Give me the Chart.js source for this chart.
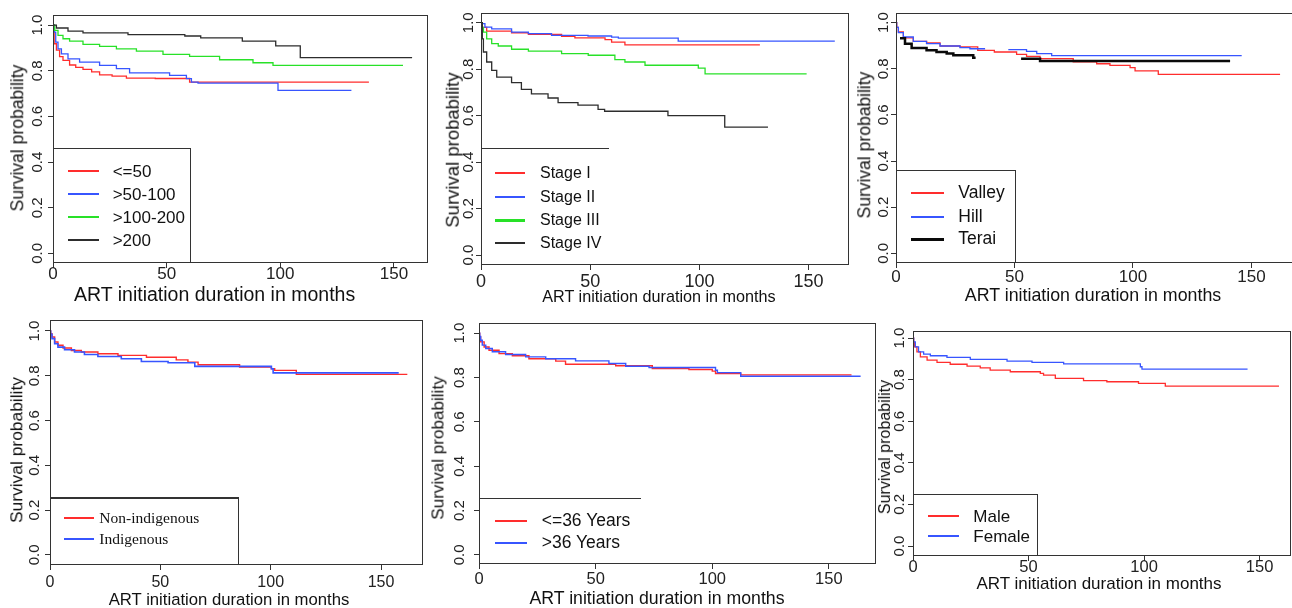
<!DOCTYPE html>
<html>
<head>
<meta charset="utf-8">
<script src="https://cdn.jsdelivr.net/npm/chart.js@4.4.1/dist/chart.umd.min.js"></script>
<style>
  html, body { margin: 0; padding: 0; background: #fff; overflow: hidden; width: 1292px; height: 608px; }
  .panel { position: absolute; }
  .txt { position: absolute; white-space: nowrap; line-height: 1; color: #111; font-family: 'Liberation Sans', Arial, sans-serif; }
  .serif { font-family: 'Liberation Serif', 'Times New Roman', serif; }
  .lgbox { position: absolute; box-sizing: border-box; border: 0 solid #333; }
  .lgline { position: absolute; }
</style>
</head>
<body>
<script>
// Ticks
const xTicks = [0, 50, 100, 150];
const yTicks = [0, 0.2, 0.4, 0.6, 0.8, 1.0];
const xTitleText = 'ART initiation duration in months';
const yTitleText = 'Survival probability';

// Panel 1 : CD4 count
const cd4Names = ['<=50', '>50-100', '>100-200', '>200'];
const cd4aT = [0, 0.5, 1.5, 2.9, 4.4, 7.3, 10, 13.2, 17, 20.5, 26, 32.3, 45, 60.1, 139];
const cd4aS = [1, 0.918, 0.89, 0.862, 0.845, 0.825, 0.815, 0.806, 0.795, 0.782, 0.776, 0.768, 0.766, 0.75, 0.75];
const cd4bT = [0, 0.6, 1.2, 2.2, 3.7, 6.6, 11.7, 20.5, 27.9, 33.7, 51.3, 58.7, 60.9, 63.8, 99, 131.3];
const cd4bS = [1, 0.969, 0.925, 0.896, 0.874, 0.852, 0.838, 0.823, 0.809, 0.791, 0.78, 0.765, 0.75, 0.746, 0.714, 0.714];
const cd4cT = [0, 0.75, 2.2, 4.4, 7.3, 13.2, 20.5, 27.9, 36.7, 48.4, 60.1, 73.3, 88, 96.8, 154];
const cd4cS = [1, 0.977, 0.955, 0.94, 0.93, 0.915, 0.907, 0.896, 0.886, 0.872, 0.863, 0.848, 0.835, 0.823, 0.823];
const cd4dT = [0, 1.5, 6.6, 13.2, 33, 58, 65, 83.3, 98, 108.8, 158];
const cd4dS = [1, 0.987, 0.973, 0.966, 0.958, 0.952, 0.944, 0.93, 0.909, 0.857, 0.857];

// Panel 2 : WHO stage
const stageNames = ['Stage I', 'Stage II', 'Stage III', 'Stage IV'];
const stage1T = [0, 0.5, 2.6, 14, 21.7, 36.9, 43, 56.8, 59.8, 65.9, 127.7];
const stage1S = [1, 0.98, 0.964, 0.957, 0.95, 0.941, 0.935, 0.927, 0.917, 0.905, 0.905];
const stage2T = [0, 0.3, 1.8, 4.9, 14, 21.7, 32.3, 49, 59.8, 62.9, 90.3, 162];
const stage2S = [1, 0.996, 0.981, 0.974, 0.96, 0.953, 0.946, 0.943, 0.938, 0.934, 0.921, 0.921];
const stage3T = [0, 0.5, 1.1, 2.6, 4.9, 7.9, 14, 21.7, 36.9, 49.1, 61.3, 65.9, 75.1, 99.5, 102.6, 149.1];
const stage3S = [1, 0.98, 0.96, 0.931, 0.91, 0.9, 0.886, 0.878, 0.867, 0.86, 0.841, 0.831, 0.817, 0.805, 0.78, 0.78];
const stage4T = [0, 0.6, 1.1, 2.6, 4.9, 7.2, 14, 18.5, 23.1, 30.7, 35.3, 44.4, 53.6, 56.6, 85.6, 111.6, 131.4];
const stage4S = [1, 0.931, 0.874, 0.831, 0.795, 0.766, 0.742, 0.713, 0.694, 0.676, 0.656, 0.645, 0.627, 0.619, 0.6, 0.551, 0.551];

// Panel 3 : region (null = break in the line)
const regionNames = ['Valley', 'Hill', 'Terai'];
const valleyT = [0, 0.3, 1, 3.1, 7.3, 12.9, 18.6, 27, 34.5, 41.5, 50.9, 55.1, 60.8, 74.8, 84.7, 90.3, 98.8, 100.9, 110.7, 162.1];
const valleyS = [1, 0.98, 0.96, 0.934, 0.919, 0.912, 0.899, 0.895, 0.88, 0.873, 0.863, 0.854, 0.844, 0.83, 0.822, 0.815, 0.805, 0.791, 0.776, 0.776];
const hillT = [0, 0.3, 1, 3.1, 7.3, 12.9, 18.6, 27, 31.2, 37.6, 37.7, 47.4, 55.1, 59.4, 65.7, 145.9];
const hillS = [1, 0.98, 0.957, 0.938, 0.919, 0.909, 0.899, 0.892, 0.887, 0.887, null, 0.883, 0.876, 0.866, 0.857, 0.857];
const teraiT = [1.7, 3.8, 6.6, 12.9, 17.1, 21.4, 24.2, 32.6, 33.6, 33.7, 52.8, 60.8, 141];
const teraiS = [0.932, 0.909, 0.89, 0.88, 0.873, 0.866, 0.859, 0.848, 0.848, null, 0.844, 0.834, 0.834];

// Panel 4 : ethnicity
const ethNames = ['Non-indigenous', 'Indigenous'];
const nonIndT = [0, 0.3, 0.9, 2.1, 3.6, 5.9, 9.7, 14.2, 21.7, 30.8, 43.7, 57.2, 62.5, 67.1, 85.9, 100.3, 101.8, 111.6, 161.9];
const nonIndS = [1, 0.988, 0.973, 0.951, 0.936, 0.924, 0.913, 0.906, 0.898, 0.891, 0.883, 0.871, 0.861, 0.849, 0.839, 0.831, 0.824, 0.806, 0.806];
const indT = [0, 0.3, 0.9, 2.1, 3.6, 6.6, 11.1, 15.6, 21.7, 32.3, 41.4, 53.5, 65.6, 100.3, 101.1, 158];
const indS = [1, 0.985, 0.966, 0.943, 0.928, 0.916, 0.906, 0.895, 0.886, 0.876, 0.864, 0.858, 0.842, 0.831, 0.813, 0.813];

// Panel 5 : age
const ageNames = ['<=36 Years', '>36 Years'];
const ageLoT = [0, 0.3, 0.7, 2.2, 4.3, 8.6, 14.3, 21.4, 32.9, 37.1, 58.6, 74.3, 90, 100, 101.4, 112.2, 159.7];
const ageLoS = [1, 0.983, 0.961, 0.938, 0.923, 0.908, 0.898, 0.885, 0.874, 0.86, 0.853, 0.84, 0.836, 0.829, 0.818, 0.812, 0.812];
const ageHiT = [0, 0.3, 0.7, 1.4, 2.9, 5.7, 11.4, 20, 28.6, 41.4, 55.7, 62.9, 72.9, 101.4, 102.2, 112.2, 163.6];
const ageHiS = [1, 0.985, 0.968, 0.946, 0.931, 0.916, 0.904, 0.893, 0.885, 0.875, 0.863, 0.851, 0.845, 0.833, 0.822, 0.806, 0.806];

// Panel 6 : sex
const sexNames = ['Male', 'Female'];
const maleT = [0, 0.3, 0.6, 1.7, 3.2, 6.1, 10.4, 16.1, 23.4, 29.1, 33.4, 42.1, 55.1, 56.5, 61.6, 73.8, 83.9, 97.6, 109.2, 158.4];
const maleS = [1, 0.98, 0.958, 0.934, 0.91, 0.894, 0.883, 0.874, 0.865, 0.857, 0.846, 0.838, 0.83, 0.822, 0.806, 0.795, 0.79, 0.782, 0.769, 0.769];
const femaleT = [0, 0.3, 1, 2.4, 4.6, 7.5, 14.7, 24.8, 40.7, 51.5, 65.2, 98.4, 99.1, 144.8];
const femaleS = [1, 0.982, 0.958, 0.934, 0.923, 0.915, 0.907, 0.898, 0.889, 0.883, 0.876, 0.862, 0.851, 0.851];

// Colours
const RED = 'rgb(255,45,45)';
const BLUE = 'rgb(55,85,255)';
const GREEN = 'rgb(40,225,40)';
const BLACK = 'rgb(45,45,45)';
const SANS = "'Liberation Sans', Arial, sans-serif";

// Layout of the six panels (page pixels)
const panels = [
  { box: [53, 15, 428, 263], xMax: 165, yMin: -0.042, yMax: 1.044,
    series: [[cd4aT, cd4aS], [cd4bT, cd4bS], [cd4cT, cd4cS], [cd4dT, cd4dS]],
    names: cd4Names, colors: [RED, BLUE, GREEN, BLACK], widths: [1.3, 1.3, 1.3, 1.3], lgWidths: [2, 2, 2, 2],
    xTickFont: 17, xGap: 11, yGap: 15,
    xTitle: [214.6, 295, 19.5], yTitle: [18.3, 138, 17.5],
    legend: { box: [53, 148, 191, 263], sides: 'tr', top: 1, lineX: [68, 99], textX: 112.7, rows: [171, 194, 217, 240], font: 17, serif: false } },
  { box: [481, 13, 849, 265], xMax: 168.5, yMin: -0.043, yMax: 1.042,
    series: [[stage1T, stage1S], [stage2T, stage2S], [stage3T, stage3S], [stage4T, stage4S]],
    names: stageNames, colors: [RED, BLUE, GREEN, BLACK], widths: [1.3, 1.3, 1.3, 1.3], lgWidths: [2, 2, 3, 2],
    xTickFont: 18, xGap: 16.7, yGap: 12.4,
    xTitle: [659, 296, 16.2], yTitle: [453.3, 150, 18.5],
    legend: { box: [481, 148, 609, 265], sides: 't', top: 1, lineX: [495, 525], textX: 540, rows: [173, 197, 220, 243], font: 16, serif: false } },
  { box: [896, 13, 1295, 263], xMax: 168.4, yMin: -0.042, yMax: 1.042,
    series: [[valleyT, valleyS], [hillT, hillS], [teraiT, teraiS]],
    names: regionNames, colors: [RED, BLUE, 'rgb(10,10,10)'], widths: [1.3, 1.3, 2.5], lgWidths: [2, 2, 3],
    xTickFont: 17, xGap: 14, yGap: 12.4,
    xTitle: [1093, 295.5, 17.8], yTitle: [865, 145, 17.5],
    legend: { box: [896, 170, 1016, 263], sides: 'tr', top: 1, lineX: [911, 944], textX: 958.3, rows: [193, 217, 239], font: 17.5, serif: false } },
  { box: [50, 320, 423, 565], xMax: 169, yMin: -0.045, yMax: 1.049,
    series: [[nonIndT, nonIndS], [indT, indS]],
    names: ethNames, colors: [RED, BLUE], widths: [1.4, 1.6], lgWidths: [2, 2],
    xTickFont: 16, xGap: 18, yGap: 15,
    xTitle: [229, 600, 16.7], yTitle: [16.7, 449.7, 17.4],
    legend: { box: [50, 497, 239, 565], sides: 'tr', top: 2, lineX: [64, 94], textX: 99.3, rows: [518, 539], font: 15.5, serif: true } },
  { box: [479, 323, 876, 564], xMax: 170.2, yMin: -0.041, yMax: 1.046,
    series: [[ageLoT, ageLoS], [ageHiT, ageHiS]],
    names: ageNames, colors: [RED, BLUE], widths: [1.4, 1.4], lgWidths: [2, 2],
    xTickFont: 16.5, xGap: 15.7, yGap: 19.3,
    xTitle: [657, 599, 17.7], yTitle: [438.3, 448, 17.1],
    legend: { box: [479, 498, 641, 564], sides: 't', top: 1, lineX: [495, 527], textX: 541.7, rows: [521, 543], font: 17.5, serif: false } },
  { box: [913, 331, 1291, 556], xMax: 163.6, yMin: -0.048, yMax: 1.034,
    series: [[maleT, maleS], [femaleT, femaleS]],
    names: sexNames, colors: [RED, BLUE], widths: [1.3, 1.3], lgWidths: [2, 2],
    xTickFont: 16.5, xGap: 11.5, yGap: 12.7,
    xTitle: [1099, 583, 17], yTitle: [885, 446.6, 16],
    legend: { box: [913, 494, 1038, 556], sides: 'tr', top: 1, lineX: [928, 959], textX: 973.3, rows: [516, 536], font: 17, serif: false } }
];

const PAD_L = 30, PAD_T = 10, PAD_R = 10, PAD_B = 30, TICK = 5, Y_TICK_FONT = 15;

// Box round the plot region
const boxPlugin = {
  id: 'box',
  afterDatasetsDraw(chart) {
    const { ctx, chartArea: a } = chart;
    ctx.save();
    ctx.strokeStyle = '#333';
    ctx.lineWidth = 1;
    ctx.strokeRect(a.left + 0.5, a.top + 0.5, a.right - a.left - 1, a.bottom - a.top - 1);
    ctx.restore();
  }
};

function addText(x, y, text, size, rotate, serif) {
  const d = document.createElement('div');
  d.className = 'txt' + (serif ? ' serif' : '');
  d.textContent = text;
  d.style.left = x + 'px';
  d.style.top = y + 'px';
  d.style.fontSize = size + 'px';
  d.style.transform = rotate ? 'translate(-50%,-50%) rotate(-90deg)' : 'translate(-50%,-50%)';
  document.body.appendChild(d);
  return d;
}

function addLegend(p) {
  const lg = p.legend;
  const [l, t, r, b] = lg.box;
  const box = document.createElement('div');
  box.className = 'lgbox';
  box.style.left = l + 'px';
  box.style.top = t + 'px';
  box.style.width = (r - l) + 'px';
  box.style.height = (b - t) + 'px';
  box.style.borderTopWidth = lg.top + 'px';
  if (lg.sides.includes('r')) box.style.borderRightWidth = '1px';
  document.body.appendChild(box);
  p.names.forEach((name, i) => {
    const y = lg.rows[i];
    const w = p.lgWidths[i];
    const line = document.createElement('div');
    line.className = 'lgline';
    line.style.left = lg.lineX[0] + 'px';
    line.style.width = (lg.lineX[1] - lg.lineX[0]) + 'px';
    line.style.top = Math.round(y - w / 2) + 'px';
    line.style.height = w + 'px';
    line.style.background = p.colors[i];
    document.body.appendChild(line);
    const tx = addText(lg.textX, y, name, lg.font, false, lg.serif);
    tx.style.transform = 'translate(0,-50%)';
  });
}

panels.forEach(p => {
  const [L, T, R, B] = p.box;
  const wrap = document.createElement('div');
  wrap.className = 'panel';
  wrap.style.left = (L - PAD_L) + 'px';
  wrap.style.top = (T - PAD_T) + 'px';
  wrap.style.width = (R - L + PAD_L + PAD_R) + 'px';
  wrap.style.height = (B - T + PAD_T + PAD_B) + 'px';
  const canvas = document.createElement('canvas');
  wrap.appendChild(canvas);
  document.body.appendChild(wrap);

  const datasets = p.series.map(([t, s], i) => ({
    label: p.names[i],
    data: t.map((x, k) => ({ x: x, y: s[k] })),
    borderColor: p.colors[i],
    borderWidth: p.widths[i],
    stepped: true,
    pointRadius: 0,
    fill: false,
    spanGaps: false,
    order: -i
  }));

  new Chart(canvas, {
    type: 'line',
    data: { datasets },
    plugins: [boxPlugin],
    options: {
      responsive: true,
      maintainAspectRatio: false,
      animation: false,
      events: [],
      layout: { padding: { left: 0, top: PAD_T, right: PAD_R, bottom: 0 } },
      plugins: { legend: { display: false }, tooltip: { enabled: false } },
      scales: {
        x: {
          type: 'linear', min: 0, max: p.xMax,
          afterBuildTicks: a => { a.ticks = xTicks.map(v => ({ value: v })); },
          afterFit: a => { a.height = PAD_B; a.paddingLeft = 0; a.paddingRight = 0; },
          grid: { drawOnChartArea: false, drawTicks: true, tickLength: TICK, color: '#333' },
          border: { display: false },
          ticks: {
            autoSkip: false, maxRotation: 0, minRotation: 0, color: '#222',
            padding: p.xGap - TICK - 0.6 * p.xTickFont,
            font: { family: SANS, size: p.xTickFont },
            callback: v => String(v)
          }
        },
        y: {
          type: 'linear', min: p.yMin, max: p.yMax,
          afterBuildTicks: a => { a.ticks = yTicks.map(v => ({ value: v })); },
          afterFit: a => { a.width = PAD_L; a.paddingTop = 0; a.paddingBottom = 0; },
          grid: { drawOnChartArea: false, drawTicks: true, tickLength: TICK, color: '#333' },
          border: { display: false },
          ticks: {
            autoSkip: false, minRotation: 90, maxRotation: 90, crossAlign: 'center', color: '#222',
            padding: p.yGap - TICK - 0.695 * Y_TICK_FONT,
            font: { family: SANS, size: Y_TICK_FONT },
            callback: v => Number(v).toFixed(1)
          }
        }
      }
    }
  });

  addText(p.xTitle[0], p.xTitle[1], xTitleText, p.xTitle[2], false, false);
  addText(p.yTitle[0], p.yTitle[1], yTitleText, p.yTitle[2], true, false);
  addLegend(p);
});
</script>
</body>
</html>
